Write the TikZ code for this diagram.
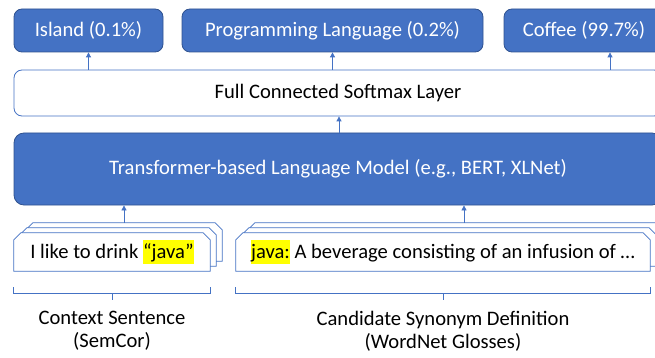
\documentclass[tikz,border=0pt]{standalone}
\usepackage{fontspec}
\setmainfont{Carlito}
\usetikzlibrary{arrows.meta,calc,backgrounds}

\definecolor{accent}{HTML}{4472C4}
\definecolor{edge}{HTML}{2F528F}
\definecolor{marker}{HTML}{FFFF00}

% yellow text highlight
\newcommand\hilite[1]{{\setlength\fboxsep{0pt}\colorbox{marker}{\rule[-5.5pt]{0pt}{24.5pt}#1}}}

% white plate with both top corners snipped, drawn round a node, optionally offset
\newcommand\snipplate[3]{%
  \draw[plate] ($(#1.south west)+({#2},{#3})$)
    -- ($(#1.north west)+({#2},{#3+7})$)
    -- ($(#1.north west)+({#2+7},{#3})$)
    -- ($(#1.north east)+({#2-7},{#3})$)
    -- ($(#1.north east)+({#2},{#3+7})$)
    -- ($(#1.south east)+({#2},{#3})$) -- cycle;}

% bracket under a node with a centre tick
\newcommand\underbracket[1]{%
  \draw[brace] ($(#1.south west)+(0,16)$) -- ($(#1.south west)+(0,22)$)
    -- ($(#1.south east)+(0,22)$) -- ($(#1.south east)+(0,16)$);
  \draw[brace] ($(#1.south)+(0,22)$) -- ($(#1.south)+(0,29)$);}

\begin{document}
\begin{tikzpicture}[x=1pt,y=-1pt,
  font=\fontsize{20.6}{23}\selectfont,
  solid/.style={draw=edge, fill=accent, text=white, rounded corners=8pt,
    line width=0.8pt, inner sep=0pt},
  layer/.style={draw=accent, fill=white, rounded corners=8pt,
    line width=0.8pt, inner sep=0pt},
  textplate/.style={inner sep=0pt, minimum height=38pt},
  plate/.style={draw=accent, fill=white, line width=0.8pt},
  brace/.style={draw=accent, line width=0.8pt},
  arr/.style={draw=accent, line width=0.8pt, -{Triangle[length=5pt,width=5pt]}},
  caption/.style={align=center, inner sep=0pt}]

\useasboundingbox (0,0) rectangle (655,358);
\clip (0,0) rectangle (655,358);

% output classes
\node[solid, minimum width=149pt, minimum height=43pt] (island) at (88.5,30.5) {Island (0.1\%)};
\node[solid, minimum width=301pt, minimum height=43pt] (prog) at (332.5,30.5) {Programming Language (0.2\%)};
\node[solid, minimum width=160pt, minimum height=43pt] (coffee) at (584,30.5) {Coffee (99.7\%)};

% softmax layer and language model
\node[layer, minimum width=648pt, minimum height=46pt] (fc) at (338,93) {Full Connected Softmax Layer};
\node[solid, rounded corners=10pt, minimum width=648pt, minimum height=72pt] (lm) at (338,169)
  {Transformer-based Language Model (e.g., BERT, XLNet)};

% input sentences
\node[textplate, minimum width=196pt] (ctx) at (112,252) {I like to drink \hilite{“java”}};
\node[textplate, minimum width=414pt] (gloss) at (443,252)
  {\hilite{java:} A beverage consisting of an infusion of …};

\begin{scope}[on background layer]
  \snipplate{ctx}{12}{-10}
  \snipplate{ctx}{6}{-5}
  \snipplate{ctx}{0}{0}
  \snipplate{gloss}{12}{-10}
  \snipplate{gloss}{6}{-5}
  \snipplate{gloss}{0}{0}
\end{scope}

% connectors
\coordinate (cf) at (610,0);
\coordinate (lmup) at (339,0);
\coordinate (ctxtop) at ($(ctx.north)+(12,-10)$);
\coordinate (glosstop) at ($(gloss.north)+(21,-10)$);
\draw[arr] (fc.north -| island) -- (island.south);
\draw[arr] (fc.north -| prog) -- (prog.south);
\draw[arr] (fc.north -| cf) -- (coffee.south -| cf);
\draw[arr] (lm.north -| lmup) -- (fc.south -| lmup);
\draw[arr] (ctxtop) -- (lm.south -| ctxtop);
\draw[arr] (glosstop) -- (lm.south -| glosstop);

% brackets and captions
\underbracket{ctx}
\underbracket{gloss}
\node[caption] (ctxlab) at ($(ctx.south)+(0,60)$) {Context Sentence\\(SemCor)};
\node[caption] (glosslab) at ($(gloss.south)+(0,60)$) {Candidate Synonym Definition\\(WordNet Glosses)};
\end{tikzpicture}
\end{document}
